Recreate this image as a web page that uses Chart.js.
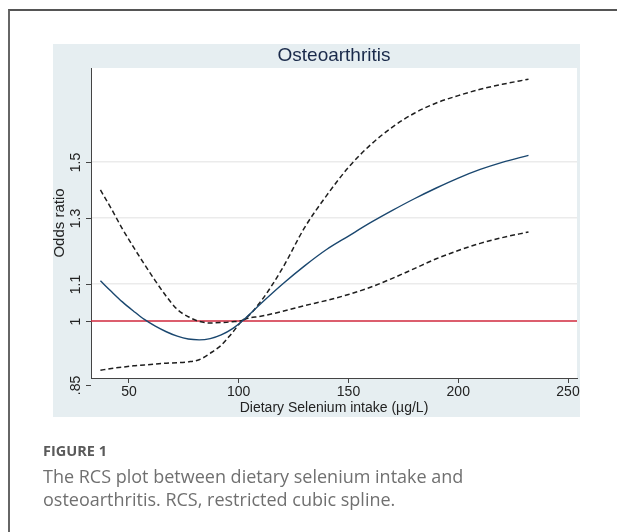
<!DOCTYPE html>
<html lang="en">
<head>
<meta charset="UTF-8">
<title>RCS plot - Osteoarthritis</title>
<script src="https://cdn.jsdelivr.net/npm/chart.js@4.4.1/dist/chart.umd.min.js"></script>
<style>
    body {
        margin: 0;
        width: 617px;
        height: 532px;
        overflow: hidden;
        position: relative;
        background: #fff;
        font-family: "Liberation Sans", Arial, sans-serif;
    }
    .frame {
        position: absolute;
        left: 8px;
        top: 9px;
        width: 700px;
        height: 600px;
        border-left: 2px solid #666;
        border-top: 2px solid #555;
    }
    .graph-bg {
        position: absolute;
        left: 53px;
        top: 44px;
        width: 527px;
        height: 373px;
        background: #e6eef1;
    }
    #rcsChart {
        position: absolute;
        left: 0;
        top: 0;
    }
    .caption {
        position: absolute;
        left: 43px;
        top: 442px;
        font-family: "Open Sans", sans-serif;
        color: #707070;
    }
    .fig-label {
        font-weight: 700;
        font-size: 14.5px;
        line-height: 18px;
        color: #5a5a5a;
    }
    .fig-text {
        font-size: 18px;
        line-height: 23px;
        margin-top: 5px;
    }
</style>
</head>
<body>
<div class="frame"></div>
<div class="graph-bg"></div>
<canvas id="rcsChart" width="617" height="532"></canvas>
<div class="caption">
    <div class="fig-label">FIGURE 1</div>
    <div class="fig-text">The RCS plot between dietary selenium intake and<br>osteoarthritis. RCS, restricted cubic spline.</div>
</div>

<script>
// selenium intake (µg/L) where the curves were read
const X_VALUES = [37, 42, 47, 52, 57, 62, 67, 72, 77, 82, 87, 92, 97, 102, 110, 120, 130, 140, 150, 160, 170, 180, 190, 200, 210, 220, 232];
// odds ratio estimate
const OR_EST = [1.108, 1.078, 1.050, 1.026, 1.004, 0.987, 0.973, 0.962, 0.955, 0.953, 0.956, 0.965, 0.980, 1.002, 1.045, 1.099, 1.151, 1.200, 1.242, 1.285, 1.326, 1.366, 1.404, 1.440, 1.472, 1.499, 1.526];
// 95% CI bounds
const OR_UPPER = [1.397, 1.331, 1.265, 1.208, 1.156, 1.108, 1.065, 1.030, 1.011, 0.999, 0.995, 0.996, 0.998, 1.003, 1.051, 1.145, 1.269, 1.377, 1.480, 1.567, 1.640, 1.699, 1.744, 1.777, 1.806, 1.829, 1.853];
const OR_LOWER = [0.882, 0.886, 0.889, 0.892, 0.894, 0.896, 0.898, 0.899, 0.901, 0.906, 0.921, 0.940, 0.970, 1.002, 1.012, 1.025, 1.040, 1.054, 1.070, 1.090, 1.115, 1.143, 1.172, 1.197, 1.219, 1.237, 1.255];

const X_TICKS = [50, 100, 150, 200, 250];
const Y_TICKS = [0.85, 1, 1.1, 1.3, 1.5];
const Y_LABELS = ['.85', '1', '1.1', '1.3', '1.5'];
const Y_GRID = [1.1, 1.3, 1.5];
const REF_OR = 1;

const X_MIN = 32.7, X_MAX = 254.1;
const Y_MIN = 0.8647, Y_MAX = 1.9068;

const toPoints = ys => X_VALUES.map((x, i) => ({ x: x, y: ys[i] }));

const plotBackground = {
    id: 'plotBackground',
    beforeDraw(chart) {
        const { ctx, chartArea: a } = chart;
        ctx.save();
        ctx.fillStyle = '#ffffff';
        ctx.fillRect(a.left, a.top, a.right - a.left, a.bottom - a.top);
        ctx.restore();
    }
};

// Stata style vertical tick labels on the y axis
const rotatedYLabels = {
    id: 'rotatedYLabels',
    afterDraw(chart) {
        const { ctx, chartArea: a, scales: { y } } = chart;
        ctx.save();
        ctx.strokeStyle = '#444';
        ctx.lineWidth = 1;
        ctx.fillStyle = '#222';
        ctx.font = '14px "Liberation Sans", Arial, sans-serif';
        ctx.textAlign = 'center';
        ctx.textBaseline = 'middle';
        Y_TICKS.forEach((v, i) => {
            const py = Math.round(y.getPixelForValue(v)) + 0.5;
            ctx.beginPath();
            ctx.moveTo(a.left - 5, py);
            ctx.lineTo(a.left, py);
            ctx.stroke();
            ctx.save();
            ctx.translate(a.left - 15, py);
            ctx.rotate(-Math.PI / 2);
            ctx.fillText(Y_LABELS[i], 0, 0);
            ctx.restore();
        });
        ctx.restore();
    }
};

const ctx = document.getElementById('rcsChart').getContext('2d');
new Chart(ctx, {
    type: 'line',
    data: {
        datasets: [{
            label: 'Reference',
            data: [{ x: X_MIN, y: REF_OR }, { x: X_MAX, y: REF_OR }],
            borderColor: '#d0283c',
            borderWidth: 1.6,
            pointRadius: 0,
            order: 4
        }, {
            label: 'Upper 95% CI',
            data: toPoints(OR_UPPER),
            borderColor: '#1e1e1e',
            borderWidth: 1.5,
            borderDash: [5, 3],
            pointRadius: 0,
            cubicInterpolationMode: 'monotone',
            order: 2
        }, {
            label: 'Lower 95% CI',
            data: toPoints(OR_LOWER),
            borderColor: '#1e1e1e',
            borderWidth: 1.5,
            borderDash: [5, 3],
            pointRadius: 0,
            cubicInterpolationMode: 'monotone',
            order: 3
        }, {
            label: 'Odds ratio',
            data: toPoints(OR_EST),
            borderColor: '#1a476f',
            borderWidth: 1.4,
            pointRadius: 0,
            cubicInterpolationMode: 'monotone',
            order: 1
        }]
    },
    options: {
        responsive: false,
        animation: false,
        devicePixelRatio: 1,
        layout: {
            padding: { left: 53, top: 44, right: 40, bottom: 115 }
        },
        plugins: {
            legend: { display: false },
            tooltip: { enabled: false },
            title: {
                display: true,
                text: 'Osteoarthritis',
                fullSize: false,
                color: '#1a2a4a',
                font: { family: '"Liberation Sans", Arial, sans-serif', size: 19, weight: 'normal', lineHeight: 1 },
                padding: { top: 2, bottom: 3 }
            }
        },
        scales: {
            x: {
                type: 'linear',
                min: X_MIN,
                max: X_MAX,
                afterBuildTicks: scale => { scale.ticks = X_TICKS.map(v => ({ value: v })); },
                afterFit: scale => { scale.height = 39; },
                border: { display: true, color: '#444', width: 1 },
                grid: { drawOnChartArea: false, drawTicks: true, tickLength: 5, tickColor: '#444' },
                ticks: {
                    color: '#222',
                    padding: 1,
                    maxRotation: 0,
                    font: { family: '"Liberation Sans", Arial, sans-serif', size: 14 }
                },
                title: {
                    display: true,
                    text: 'Dietary Selenium intake (µg/L)',
                    color: '#222',
                    font: { family: '"Liberation Sans", Arial, sans-serif', size: 14 },
                    padding: { top: 0, bottom: 0 }
                }
            },
            y: {
                type: 'logarithmic',
                min: Y_MIN,
                max: Y_MAX,
                afterBuildTicks: scale => { scale.ticks = Y_TICKS.map(v => ({ value: v })); },
                afterFit: scale => { scale.width = 38; },
                border: { display: true, color: '#444', width: 1 },
                grid: {
                    drawTicks: false,
                    lineWidth: 1.6,
                    color: c => (c.tick && Y_GRID.includes(c.tick.value)) ? '#ebebeb' : 'rgba(0,0,0,0)'
                },
                ticks: { display: false },
                title: {
                    display: true,
                    text: 'Odds ratio',
                    color: '#222',
                    font: { family: '"Liberation Sans", Arial, sans-serif', size: 15 },
                    padding: { top: -2, bottom: 0 }
                }
            }
        }
    },
    plugins: [plotBackground, rotatedYLabels]
});
</script>
</body>
</html>
